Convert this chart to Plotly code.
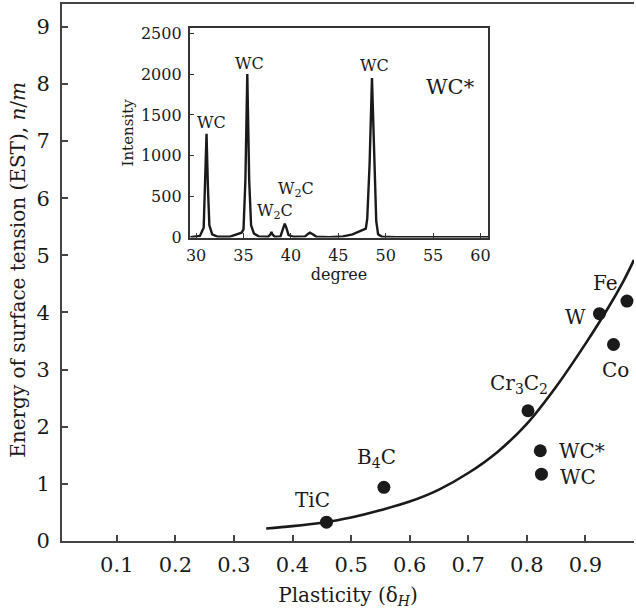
import plotly.graph_objects as go

# ---- main scatter data (Plasticity vs EST) ----
materials = ["TiC", "B<sub>4</sub>C", "Cr<sub>3</sub>C<sub>2</sub>", "WC*", "WC", "W", "Co", "Fe"]
plasticity = [0.458, 0.556, 0.802, 0.823, 0.825, 0.924, 0.948, 0.971]
est = [0.33, 0.94, 2.28, 1.58, 1.17, 3.98, 3.44, 4.20]

# fitted trend curve
fit_x = [0.355, 0.40, 0.45, 0.50, 0.55, 0.60, 0.65, 0.70, 0.75, 0.80, 0.85, 0.90, 0.94, 0.965, 0.983]
fit_y = [0.22, 0.26, 0.32, 0.41, 0.54, 0.69, 0.90, 1.19, 1.56, 2.05, 2.70, 3.45, 4.10, 4.55, 4.92]

# ---- inset XRD pattern (WC*) ----
xrd_deg = [29.4, 30.4, 30.8, 30.95, 31.1, 31.25, 31.4, 31.7, 32.3, 33.5, 34.5, 34.8,
           35.0, 35.2, 35.4, 35.6, 35.8, 36.1, 36.6, 37.6, 37.85, 37.95, 38.05, 38.3,
           38.9, 39.15, 39.35, 39.55, 39.75, 40.3, 41.5, 41.8, 42.0, 42.3, 42.7, 44.0,
           45.5, 46.5, 47.3, 47.9, 48.05, 48.3, 48.55, 48.8, 49.0, 49.2, 49.6, 51.0, 60.8]
xrd_int = [5, 20, 120, 600, 1270, 600, 150, 40, 10, 10, 45, 60,
           100, 700, 2000, 700, 150, 50, 15, 10, 40, 70, 40, 10,
           15, 100, 170, 110, 30, 10, 15, 45, 60, 40, 10, 5,
           15, 40, 80, 110, 230, 900, 1950, 900, 200, 40, 10, 5, 5]

peak_labels = ["WC", "WC", "W<sub>2</sub>C", "W<sub>2</sub>C", "WC"]
peak_label_x = [31.62, 35.61, 38.35, 40.52, 48.86]
peak_label_y = [1412, 2133, 324, 593, 2109]

x_ticks = [0.1, 0.2, 0.3, 0.4, 0.5, 0.6, 0.7, 0.8, 0.9]
y_ticks = [0, 1, 2, 3, 4, 5, 6, 7, 8, 9]
inset_x_ticks = [30, 35, 40, 45, 50, 55, 60]
inset_y_ticks = [0, 500, 1000, 1500, 2000, 2500]

FONT = "DejaVu Serif"
INK = "#1a1a1a"

fig = go.Figure()
fig.add_trace(go.Scatter(x=fit_x, y=fit_y, mode="lines",
                         line=dict(color=INK, width=2.6, shape="spline", smoothing=1.0),
                         showlegend=False, hoverinfo="skip"))
fig.add_trace(go.Scatter(x=plasticity, y=est, mode="markers", marker=dict(color=INK, size=13),
                         showlegend=False))
fig.add_trace(go.Scatter(x=xrd_deg, y=xrd_int, mode="lines", line=dict(color=INK, width=2.4),
                         xaxis="x2", yaxis="y2", showlegend=False))

# point labels: (xshift, yshift, xanchor)
offsets = [(-14, 22, "center"), (-7, 29, "center"), (-9, 27, "center"), (17, 0, "left"),
           (17, -3, "left"), (-11, -3, "right"), (2, -26, "center"), (-21, 18, "center")]
for name, px, py, (dx, dy, xa) in zip(materials, plasticity, est, offsets):
    fig.add_annotation(x=px, y=py, text=name, showarrow=False, xshift=dx, yshift=dy, xanchor=xa,
                       font=dict(family=FONT, size=20, color=INK))

for t, lx, ly in zip(peak_labels, peak_label_x, peak_label_y):
    fig.add_annotation(x=lx, y=ly, xref="x2", yref="y2", text=t, showarrow=False,
                       font=dict(family=FONT, size=16, color=INK))
fig.add_annotation(x=56.81, y=1846, xref="x2", yref="y2", text="WC*", showarrow=False,
                   font=dict(family=FONT, size=21, color=INK))

# y-axis title
fig.add_annotation(x=-0.077, y=0.505, xref="paper", yref="paper", xanchor="center", yanchor="middle",
                   textangle=-90, showarrow=False,
                   text="Energy of surface tension (EST), <i>n</i>/<i>m</i>",
                   font=dict(family=FONT, size=20, color=INK))

fig.update_layout(
    width=636, height=615,
    margin=dict(l=62, r=0, t=4, b=74),
    paper_bgcolor="white", plot_bgcolor="white",
    font=dict(family=FONT, color=INK),
    xaxis=dict(domain=[0, 1], range=[0.0064, 0.983], tickvals=x_ticks,
               ticktext=[str(v) for v in x_ticks], ticks="inside", ticklen=6, tickwidth=1.5,
               tickcolor="#444", showline=True, linecolor="#444", linewidth=2, mirror=True,
               showgrid=False, zeroline=False, tickfont=dict(family=FONT, size=21, color=INK),
               ticklabelstandoff=4,
               title=dict(text="Plasticity (δ<sub><i>H</i></sub>)", font=dict(family=FONT, size=20, color=INK),
                          standoff=12)),
    yaxis=dict(domain=[0, 1], range=[0, 9.40], tickvals=y_ticks, ticks="inside", ticklen=6,
               tickwidth=1.5, tickcolor="#444", showline=True, linecolor="#444", linewidth=2,
               showgrid=False, zeroline=False, tickfont=dict(family=FONT, size=21, color=INK),
               ticklabelstandoff=6),
    xaxis2=dict(domain=[0.223, 0.7456], anchor="y2", range=[29.31, 60.84], tickvals=inset_x_ticks,
                ticks="inside", ticklen=5, tickwidth=1.2, tickcolor="#333", showline=True,
                linecolor="#333", linewidth=1.5, mirror=True, showgrid=False, zeroline=False,
                tickfont=dict(family=FONT, size=16, color=INK), ticklabelstandoff=2,
                title=dict(text="degree", font=dict(family=FONT, size=16, color=INK), standoff=2)),
    yaxis2=dict(domain=[0.565, 0.955], anchor="x2", range=[0, 2561], tickvals=inset_y_ticks,
                ticks="inside", ticklen=5, tickwidth=1.2, tickcolor="#333", showline=True,
                linecolor="#333", linewidth=1.5, mirror=True, showgrid=False, zeroline=False,
                tickfont=dict(family=FONT, size=16, color=INK), ticklabelstandoff=3,
                title=dict(text="Intensity", font=dict(family=FONT, size=15, color=INK), standoff=4)),
)

fig.write_html("out.html")
